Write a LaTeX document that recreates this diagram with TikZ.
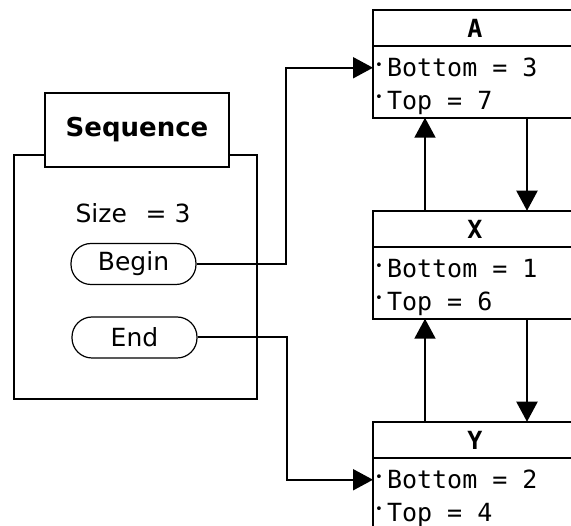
\documentclass[tikz,border=0pt]{standalone}
\usepackage{fontspec}
\setsansfont{DejaVu Sans}
\setmonofont{DejaVu Sans Mono}
\usetikzlibrary{arrows.meta,positioning}
\newcommand{\fld}[1]{\raisebox{7.5pt}{\fontsize{13}{13}\selectfont\textbullet}\hspace{4pt}#1}
\newcommand{\bigtxt}{\fontsize{25}{29}\selectfont}

\begin{document}
\begin{tikzpicture}[x=1pt, y=-1pt,
  box/.style={draw, line width=2pt, fill=white, inner sep=0pt, outer sep=0pt},
  pill/.style={draw, line width=1.2pt, rounded corners=20pt, minimum width=125pt, minimum height=41pt, font=\sffamily\bigtxt},
  fldbox/.style={anchor=west, inner xsep=2pt, inner ysep=0pt, text height=18pt, text depth=0pt, font=\ttfamily\bigtxt},
  conn/.style={line width=2pt, -{Triangle[length=20pt,width=21pt]}}
]
\useasboundingbox (0,0) rectangle (571,526);
\clip (0,0) rectangle (571,526);

\node[box, minimum width=243pt, minimum height=244pt] (seq) at (135.5,277) {};
\node[box, minimum width=184pt, minimum height=74pt, font=\sffamily\bfseries\fontsize{26}{30}\selectfont] (seqtitle) at (137,130) {Sequence};
\node[font=\sffamily\bigtxt] (size) at (133,213) {Size\hspace{0.75em}= 3};
\node[pill] (seqbegin) at (133.5,264) {Begin};
\node[pill] (seqend) at (134.5,337.5) {End};

\foreach \n/\ty/\b/\t in {A/10/3/7, X/211/1/6, Y/422/2/4} {
  \node[box, minimum width=204pt, minimum height=36.5pt, font=\ttfamily\bfseries\bigtxt] (\n) at (475,\ty+18) {\n};
  \node[box, minimum width=204pt, minimum height=71.5pt, below=0pt of \n] (\n-body) {};
  \node[fldbox] (\n-bot) at ([yshift=-21.5pt]\n-body.north west) {\fld{Bottom = \b}};
  \node[fldbox] (\n-top) at ([yshift=-54pt]\n-body.north west) {\fld{Top = \t}};
}

\draw[conn] (seqbegin.east) -- ++(89,0) |- (A-bot.west);
\draw[conn] (seqend.east) -- ++(89,0) |- (Y-bot.west);
\draw[conn] ([xshift=-50pt]X.north) -- ([xshift=-50pt]A-body.south);
\draw[conn] ([xshift=52pt]A-body.south) -- ([xshift=52pt]X.north);
\draw[conn] ([xshift=-50pt]Y.north) -- ([xshift=-50pt]X-body.south);
\draw[conn] ([xshift=52pt]X-body.south) -- ([xshift=52pt]Y.north);
\end{tikzpicture}
\end{document}
